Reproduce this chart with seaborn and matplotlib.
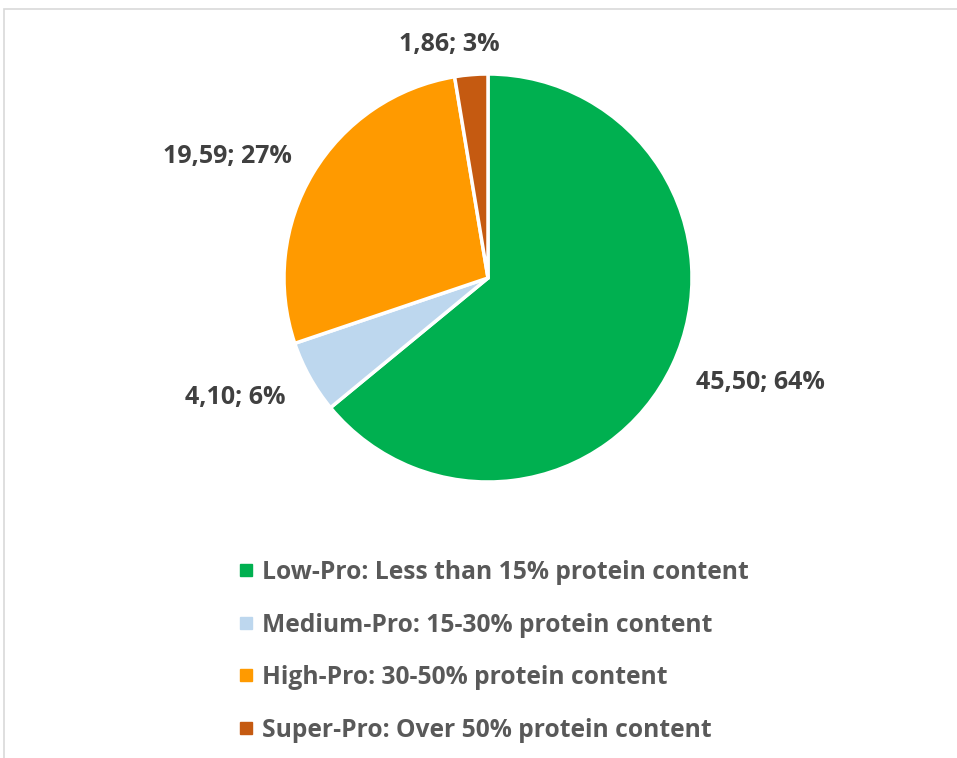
import numpy as np
import matplotlib
matplotlib.use('AGG')
import matplotlib.pyplot as plt
import seaborn as sns
from matplotlib.lines import Line2D
from matplotlib.patches import Rectangle

# data
categories = ['Low-Pro: Less than 15% protein content',
              'Medium-Pro: 15-30% protein content',
              'High-Pro: 30-50% protein content',
              'Super-Pro: Over 50% protein content']
values = [45.50, 4.10, 19.59, 1.86]
percent_labels = ['64%', '6%', '27%', '3%']
colors = ['#00B050', '#BDD7EE', '#FF9A00', '#C55A11']

# label placement (distance in radii, angle shift in degrees)
label_dist = [1.43, 1.37, 1.41, 1.16]
label_shift = [4.3, -3.8, 5.9, 4.8]

sns.set_style('white')
plt.rcParams['font.family'] = ['Open Sans', 'DejaVu Sans']

W, H = 957, 758
fig = plt.figure(figsize=(W / 100, H / 100), dpi=100)

# chart area border (only top / left visible)
fig.patches.append(Rectangle((4 / W, -0.05), 1.2, 1 - 9 / H + 0.05, transform=fig.transFigure,
                             fill=False, edgecolor='#D9D9D9', linewidth=1.2))

# pie: center (488, 278) px, radius 204 px
lim = 1.6
R = 204
side = 2 * R * lim
cx, cy = 488, H - 278
ax = fig.add_axes([(cx - side / 2) / W, (cy - side / 2) / H, side / W, side / H])

wedges, _ = ax.pie(values, colors=colors, startangle=90, counterclock=False,
                   wedgeprops=dict(edgecolor='white', linewidth=2.5))
ax.set_xlim(-lim, lim)
ax.set_ylim(-lim, lim)
ax.set_aspect('equal')
ax.axis('off')

for w, v, p, d, s in zip(wedges, values, percent_labels, label_dist, label_shift):
    ang = np.deg2rad((w.theta1 + w.theta2) / 2 + s)
    txt = f'{v:.2f}'.replace('.', ',') + '; ' + p
    ax.text(d * np.cos(ang), d * np.sin(ang), txt, ha='center', va='center',
            fontsize=18, fontweight='bold', color='#404040')

handles = [Line2D([], [], marker='s', linestyle='none', markersize=8,
                  markerfacecolor=c, markeredgecolor=c) for c in colors]
leg = fig.legend(handles, categories, loc='upper left', bbox_to_anchor=(239 / W, 1 - 560 / H),
                 frameon=False, fontsize=17.7, handlelength=0.55, handletextpad=0.4,
                 labelspacing=1.12, borderpad=0, borderaxespad=0)
for t in leg.get_texts():
    t.set_color('#595959')
    t.set_fontweight('bold')

fig.savefig('out.png', dpi=100)
